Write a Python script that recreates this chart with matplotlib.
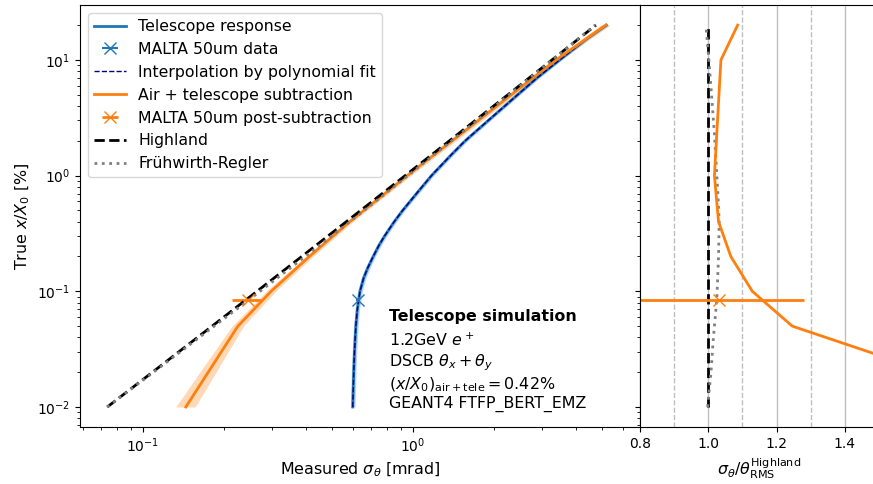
import matplotlib
matplotlib.use('Agg')
import matplotlib.pyplot as plt
import numpy as np

# true material budget x/X0 [%] and measured widths [mrad]
xx0_hl = [0.01, 0.02, 0.05, 0.1, 0.2, 0.5, 1, 2, 5, 10, 20]
sigma_hl = [0.0737, 0.1084, 0.1802, 0.2643, 0.3871, 0.6400, 0.9350, 1.3644, 2.2458, 3.2703, 4.7582]

xx0_fr = [0.01, 0.02, 0.04, 0.085, 0.2, 0.4, 0.7, 2.3, 9, 20]
sigma_fr = [0.0736, 0.1093, 0.1617, 0.2477, 0.3987, 0.5845, 0.791, 1.499, 3.098, 4.725]
ratio_fr = [0.998, 1.008, 1.015, 1.025, 1.03, 1.032, 1.028, 1.018, 1.003, 0.993]

xx0_tel = [0.01, 0.02, 0.03, 0.05, 0.07, 0.1, 0.13, 0.16, 0.2, 0.25, 0.3, 0.4, 0.5, 0.7,
           1, 1.5, 2, 3, 5, 7, 10, 15, 20]
sigma_tel = [0.598, 0.603, 0.607, 0.614, 0.622, 0.636, 0.656, 0.680, 0.712, 0.748, 0.784, 0.852,
             0.915, 1.03, 1.17, 1.38, 1.56, 1.90, 2.44, 2.88, 3.49, 4.36, 5.2]
sigma_tel_err = [0.012, 0.012, 0.012, 0.012, 0.012, 0.013, 0.013, 0.014, 0.014, 0.015, 0.016,
                 0.017, 0.018, 0.021, 0.024, 0.028, 0.032, 0.04, 0.05, 0.06, 0.07, 0.09, 0.11]

xx0_sub = [0.01, 0.05, 0.1, 0.2, 0.4, 1, 10, 20]
sigma_sub = [0.144, 0.2245, 0.298, 0.413, 0.583, 0.952, 3.39, 5.17]
sigma_sub_err = [0.012, 0.011, 0.012, 0.013, 0.016, 0.03, 0.12, 0.2]
ratio_sub = [1.95, 1.246, 1.129, 1.066, 1.03, 1.018, 1.037, 1.086]

# MALTA 50um point
malta_xx0 = 0.0843
malta_sigma = 0.624
malta_sigma_err = 0.008
malta_sub = 0.244
malta_sub_err = 0.03
malta_ratio = 1.03
malta_ratio_err = 0.25

grid_solid = [1.0, 1.2, 1.4]
grid_dashed = [0.9, 1.1, 1.3]

W, H = 873, 484
fig = plt.figure(figsize=(W/100, H/100), dpi=100)
ax = fig.add_axes([80/W, (H-427)/H, 560/W, 422/H])
axr = fig.add_axes([640/W, (H-427)/H, 239/W, 422/H], sharey=ax)

# bands
ax.fill_betweenx(xx0_tel, np.array(sigma_tel)-np.array(sigma_tel_err),
                 np.array(sigma_tel)+np.array(sigma_tel_err), color='C0', alpha=0.3, lw=0)
ax.fill_betweenx(xx0_sub, np.array(sigma_sub)-np.array(sigma_sub_err),
                 np.array(sigma_sub)+np.array(sigma_sub_err), color='C1', alpha=0.3, lw=0)

ax.plot(sigma_tel, xx0_tel, color='C0', lw=2, label='Telescope response')
ax.errorbar([malta_sigma], [malta_xx0], xerr=[malta_sigma_err], fmt='x', color='C0',
            ms=8, lw=1.5, label='MALTA 50um data')
ax.plot(sigma_tel, xx0_tel, color='navy', lw=1, ls='--', label='Interpolation by polynomial fit')
ax.plot(sigma_sub, xx0_sub, color='C1', lw=2, label='Air + telescope subtraction')
ax.errorbar([malta_sub], [malta_xx0], xerr=[malta_sub_err], fmt='x', color='C1',
            ms=8, lw=2, label='MALTA 50um post-subtraction')
ax.plot(sigma_hl, xx0_hl, color='black', lw=2, ls='--', label='Highland')
ax.plot(sigma_fr, xx0_fr, color='gray', lw=2, ls=':', label='Frühwirth-Regler')

ax.set_xscale('log')
ax.set_yscale('log')
ax.set_xlim(0.0584, 6.93)
ax.set_ylim(10**-2.173, 10**1.475)
ax.set_xlabel(r'Measured $\sigma_\theta$ [mrad]', fontsize=11.4)
ax.set_ylabel(r'True $x/X_0$ [%]', fontsize=11.4)

# keep the legend in plotting order
order = ['Telescope response', 'MALTA 50um data', 'Interpolation by polynomial fit',
         'Air + telescope subtraction', 'MALTA 50um post-subtraction', 'Highland', 'Frühwirth-Regler']
handles, labels = ax.get_legend_handles_labels()
hmap = dict(zip(labels, handles))
ax.legend([hmap[l] for l in order], order, loc='upper left', fontsize=11.3)

ax.text(0.551, 0.261, 'Telescope simulation', transform=ax.transAxes, fontsize=11.4,
        fontweight='bold', va='center', ha='left')
ax.text(0.551, 0.225, '1.2GeV $e^+$\nDSCB $\\theta_x+\\theta_y$\n'
        '$(x/X_0)_{\\mathrm{air+tele}} = 0.42\\%$\nGEANT4 FTFP_BERT_EMZ',
        transform=ax.transAxes, fontsize=11.4, va='top', ha='left')

# ratio panel
for g in grid_solid:
    axr.axvline(g, color='0.75', lw=1, zorder=0)
for g in grid_dashed:
    axr.axvline(g, color='0.75', lw=1, ls='--', zorder=0)
axr.plot([1.0, 1.0], [xx0_hl[0], xx0_hl[-1]], color='black', lw=2, ls='--')
axr.plot(ratio_fr, xx0_fr, color='gray', lw=2, ls=':')
axr.plot(ratio_sub, xx0_sub, color='C1', lw=2)
axr.errorbar([malta_ratio], [malta_xx0], xerr=[malta_ratio_err], fmt='x', color='C1', ms=8, lw=2)
axr.set_xlim(0.8, 1.5)
axr.set_xticks([0.8, 1.0, 1.2, 1.4])
axr.set_xlabel(r'$\sigma_\theta/\theta_{\mathrm{RMS}}^{\mathrm{Highland}}$', fontsize=11.4)
axr.tick_params(axis='y', labelleft=False)

fig.savefig('out.png', dpi=100)
